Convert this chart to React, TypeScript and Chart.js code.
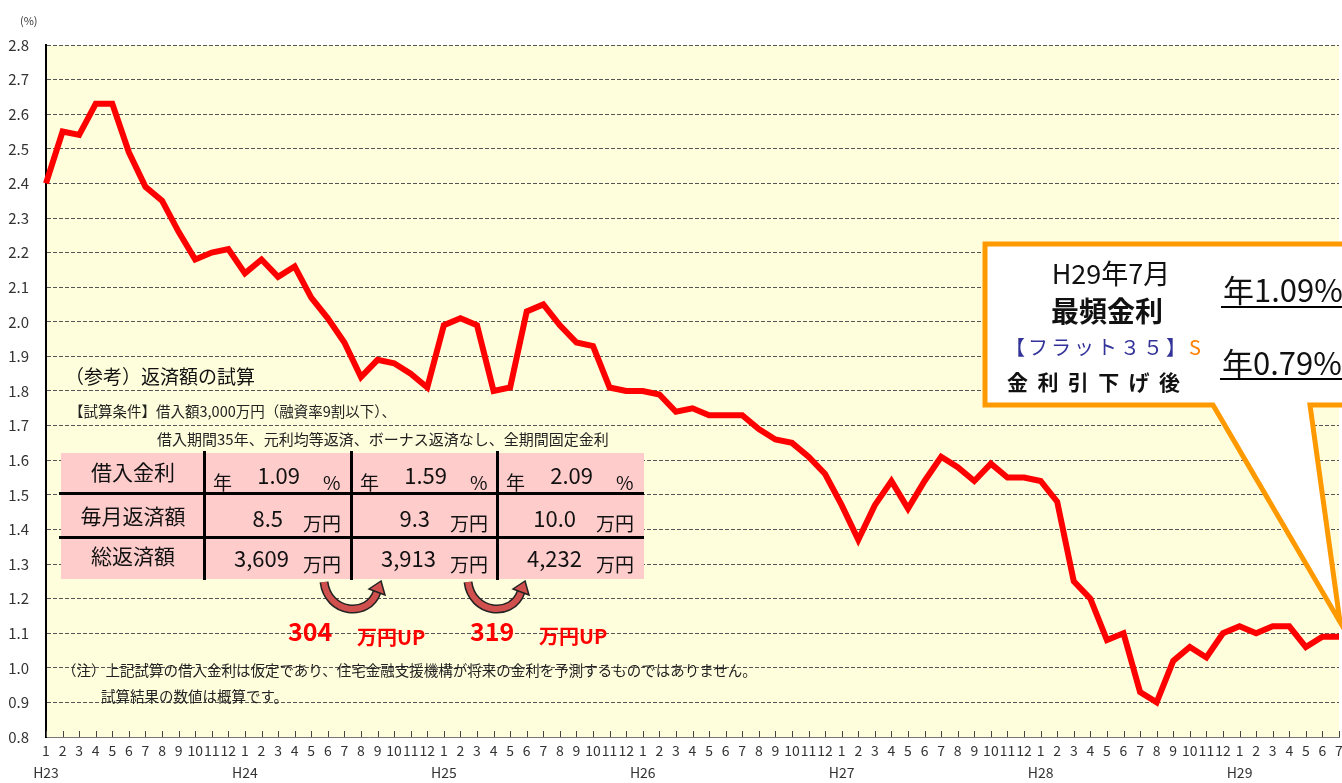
import React, { useEffect, useRef } from 'react';
import { Chart, registerables } from 'chart.js';

Chart.register(...registerables);

const W = 1342;
const H = 783;
const FONT = "'Noto Sans CJK JP', 'Noto Sans', sans-serif";

// ---- data ----
const years = ['H23', 'H24', 'H25', 'H26', 'H27', 'H28', 'H29'];
const months = ['1', '2', '3', '4', '5', '6', '7', '8', '9', '10', '11', '12'];
const rateH23 = [2.40, 2.55, 2.54, 2.63, 2.63, 2.49, 2.39, 2.35, 2.26, 2.18, 2.20, 2.21];
const rateH24 = [2.14, 2.18, 2.13, 2.16, 2.07, 2.01, 1.94, 1.84, 1.89, 1.88, 1.85, 1.81];
const rateH25 = [1.99, 2.01, 1.99, 1.80, 1.81, 2.03, 2.05, 1.99, 1.94, 1.93, 1.81, 1.80];
const rateH26 = [1.80, 1.79, 1.74, 1.75, 1.73, 1.73, 1.73, 1.69, 1.66, 1.65, 1.61, 1.56];
const rateH27 = [1.47, 1.37, 1.47, 1.54, 1.46, 1.54, 1.61, 1.58, 1.54, 1.59, 1.55, 1.55];
const rateH28 = [1.54, 1.48, 1.25, 1.20, 1.08, 1.10, 0.93, 0.90, 1.02, 1.06, 1.03, 1.10];
const rateH29 = [1.12, 1.10, 1.12, 1.12, 1.06, 1.09, 1.09];
const yearlyRates = [rateH23, rateH24, rateH25, rateH26, rateH27, rateH28, rateH29];
const yTickValues = [0.8, 0.9, 1.0, 1.1, 1.2, 1.3, 1.4, 1.5, 1.6, 1.7, 1.8, 1.9, 2.0, 2.1, 2.2, 2.3, 2.4, 2.5, 2.6, 2.7, 2.8];

// table values
const tableRates = ['1.09', '1.59', '2.09'];
const tableMonthly = ['8.5', '9.3', '10.0'];
const tableTotal = ['3,609', '3,913', '4,232'];
const tableDiffs = ['304', '319'];

const rates: number[] = [];
const labels: (string | string[])[] = [];
yearlyRates.forEach((arr, yi) => {
  arr.forEach((v, mi) => {
    rates.push(v);
    labels.push(mi === 0 ? [months[mi], years[yi]] : months[mi]);
  });
});

function T(props: any) {
  const { x, cy, s, align = 'left', children, style } = props;
  const st: any = {
    position: 'absolute',
    top: cy - s * 0.56,
    fontSize: s,
    lineHeight: 1,
    whiteSpace: 'nowrap',
    ...style,
  };
  if (align === 'left') st.left = x;
  else if (align === 'right') st.right = W - x;
  else {
    st.left = x;
    st.transform = 'translateX(-50%)';
  }
  return <div style={st}>{children}</div>;
}

const bgPlugin = {
  id: 'bgPlugin',
  beforeDraw(chart: any) {
    const { ctx, chartArea } = chart;
    ctx.save();
    ctx.fillStyle = '#FFFEDC';
    ctx.fillRect(chartArea.left, chartArea.top, chartArea.right - chartArea.left, chartArea.bottom - chartArea.top);
    ctx.restore();
  },
  beforeDatasetsDraw(chart: any) {
    const { ctx, chartArea } = chart;
    const xs = chart.scales.x;
    ctx.save();
    ctx.strokeStyle = '#444';
    ctx.lineWidth = 1;
    ctx.beginPath();
    for (let i = 0; i < labels.length; i++) {
      const px = Math.round(xs.getPixelForValue(i)) + 0.5;
      ctx.moveTo(px, chartArea.bottom);
      ctx.lineTo(px, chartArea.bottom - 6);
    }
    ctx.stroke();
    ctx.restore();
  },
};

function ChartCanvas() {
  const ref = useRef<HTMLCanvasElement>(null);
  useEffect(() => {
    if (!ref.current) return;
    const chart = new Chart(ref.current, {
      type: 'line',
      data: {
        labels,
        datasets: [
          {
            data: rates,
            borderColor: '#FF0000',
            borderWidth: 6,
            pointRadius: 0,
            tension: 0,
            fill: false,
          },
        ],
      },
      options: {
        animation: false,
        responsive: false,
        devicePixelRatio: 1,
        layout: { padding: { top: 45, right: 3, left: 0, bottom: 0 } },
        plugins: { legend: { display: false }, tooltip: { enabled: false }, title: { display: false } },
        scales: {
          x: {
            type: 'category',
            offset: false,
            grid: { display: false, drawTicks: false },
            border: { display: true, color: '#777', width: 1 },
            ticks: {
              autoSkip: false,
              maxRotation: 0,
              minRotation: 0,
              padding: 3,
              color: '#333',
              font: { family: FONT, size: 14, lineHeight: 1.55 },
            },
            afterFit(scale: any) {
              scale.height = 46;
              scale.paddingLeft = 0;
              scale.paddingRight = 0;
            },
          },
          y: {
            type: 'linear',
            min: 0.8,
            max: 2.8,
            grid: { display: true, color: '#555', lineWidth: 1, drawTicks: false },
            border: { display: true, color: '#000', width: 2, dash: [4, 2] },
            afterBuildTicks(scale: any) {
              scale.ticks = yTickValues.map((v) => ({ value: v }));
            },
            ticks: {
              padding: 17,
              color: '#333',
              font: { family: FONT, size: 15 },
              callback: (v: any) => Number(v).toFixed(1),
            },
            afterFit(scale: any) {
              scale.width = 46;
            },
          },
        },
      },
      plugins: [bgPlugin],
    } as any);
    return () => chart.destroy();
  }, []);
  return <canvas ref={ref} width={W} height={H} style={{ position: 'absolute', left: 0, top: 0 }} />;
}

function Arrow({ dx }: { dx: number }) {
  const path = `M ${324 + dx} 582 C ${328 + dx} 614, ${368 + dx} 618, ${377 + dx} 592`;
  const head = `${381 + dx},581 ${369 + dx},589 ${385 + dx},595`;
  return (
    <g>
      <path d={path} fill="none" stroke="#222" strokeWidth={9} />
      <path d={path} fill="none" stroke="#D0504D" strokeWidth={6} />
      <polygon points={head} fill="#D0504D" stroke="#222" strokeWidth={1.5} strokeLinejoin="miter" />
    </g>
  );
}

export default function App() {
  const cols = [204, 351, 497];
  const textColor = '#111';
  return (
    <div
      style={{
        position: 'absolute',
        left: 0,
        top: 0,
        width: W,
        height: H,
        overflow: 'hidden',
        background: '#fff',
        fontFamily: FONT,
        color: textColor,
      }}
    >
      <ChartCanvas />
      <T x={20} cy={21} s={11} style={{ color: '#333' }}>(%)</T>

      {/* reference notes */}
      <T x={65} cy={377} s={19}>（参考）返済額の試算</T>
      <T x={69} cy={412} s={14.5} style={{ color: '#222' }}>【試算条件】借入額3,000万円（融資率9割以下）、</T>
      <T x={157} cy={439} s={15} style={{ color: '#222' }}>借入期間35年、元利均等返済、ボーナス返済なし、全期間固定金利</T>

      {/* table */}
      <div style={{ position: 'absolute', left: 61, top: 453, width: 583, height: 126, background: '#FFCCCC' }} />
      {cols.map((c) => (
        <div key={'v' + c} style={{ position: 'absolute', left: c - 1, top: 451, width: 3, height: 129, background: '#000' }} />
      ))}
      <div style={{ position: 'absolute', left: 59, top: 492, width: 585, height: 3, background: '#000' }} />
      <div style={{ position: 'absolute', left: 59, top: 536, width: 585, height: 3, background: '#000' }} />
      <T x={133} cy={473} s={21} align="center">借入金利</T>
      <T x={133} cy={517} s={21} align="center">毎月返済額</T>
      <T x={133} cy={557} s={21} align="center">総返済額</T>
      {cols.map((c, i) => (
        <React.Fragment key={'c' + i}>
          <T x={c + 9} cy={483} s={19}>年</T>
          <T x={c + 96} cy={475} s={22} align="right">{tableRates[i]}</T>
          <T x={c + 119} cy={483} s={19}>%</T>
          <T x={c + 79} cy={518} s={22} align="right">{tableMonthly[i]}</T>
          <T x={c + 99} cy={524} s={19}>万円</T>
          <T x={c + 85} cy={558} s={22} align="right">{tableTotal[i]}</T>
          <T x={c + 99} cy={565} s={19}>万円</T>
        </React.Fragment>
      ))}

      {/* arrows and callout */}
      <svg width={W} height={H} style={{ position: 'absolute', left: 0, top: 0 }}>
        <Arrow dx={0} />
        <Arrow dx={144} />
        <polygon
          points="985,244 1352,244 1352,405 1310,405 1340,622 1213,405 985,405"
          fill="#FFFFFF"
          stroke="#FF9900"
          strokeWidth={5}
          strokeLinejoin="miter"
          strokeMiterlimit={10}
        />
      </svg>

      <T x={288} cy={632} s={25} style={{ color: '#FF0000', fontWeight: 'bold' }}>{tableDiffs[0]}</T>
      <T x={357} cy={638} s={20} style={{ color: '#FF0000', fontWeight: 'bold' }}>万円UP</T>
      <T x={470} cy={632} s={25} style={{ color: '#FF0000', fontWeight: 'bold' }}>{tableDiffs[1]}</T>
      <T x={539} cy={637} s={20} style={{ color: '#FF0000', fontWeight: 'bold' }}>万円UP</T>

      <T x={62} cy={671} s={14.5} style={{ color: '#222' }}>
        （注）上記試算の借入金利は仮定であり、住宅金融支援機構が将来の金利を予測するものではありません。
      </T>
      <T x={101} cy={697} s={14.5} style={{ color: '#222' }}>試算結果の数値は概算です。</T>

      {/* callout text */}
      <T x={1111} cy={274} s={27} align="center">H29年7月</T>
      <T x={1107} cy={312} s={28} align="center" style={{ fontWeight: 'bold' }}>最頻金利</T>
      <T x={1005} cy={348} s={20} style={{ color: '#333399', letterSpacing: 3 }}>
        【フラット３５】<span style={{ color: '#FF8000', letterSpacing: 0 }}>S</span>
      </T>
      <T x={1007} cy={383} s={21} style={{ fontWeight: 'bold', letterSpacing: 9.4 }}>金利引下げ後</T>
      <T x={1223} cy={290} s={31}>年1.09%</T>
      <div style={{ position: 'absolute', left: 1221, top: 306, width: 130, height: 2, background: '#000' }} />
      <T x={1222} cy={363} s={31}>年0.79%</T>
      <div style={{ position: 'absolute', left: 1220, top: 378, width: 130, height: 2, background: '#000' }} />
    </div>
  );
}
